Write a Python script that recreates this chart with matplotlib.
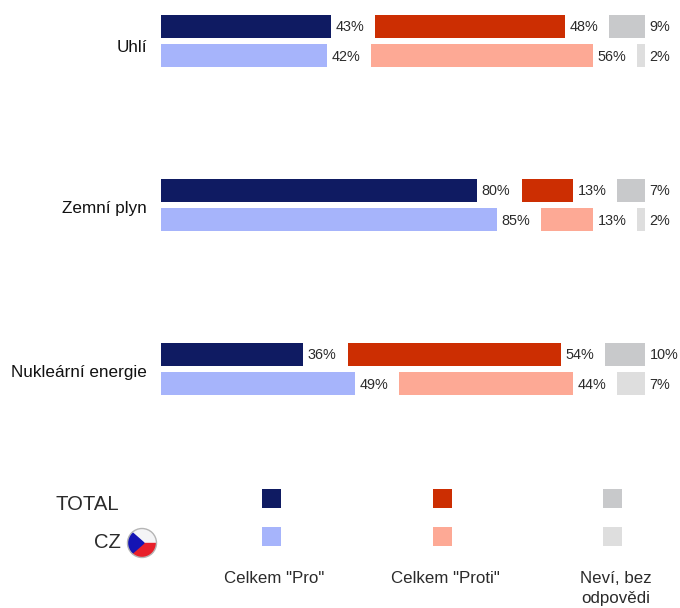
"""
Postoj k energetickým zdrojům - TOTAL vs CZ
"""

import matplotlib
matplotlib.use('Agg')
import matplotlib.pyplot as plt
from matplotlib.patches import Circle, Polygon, Rectangle

plt.rcParams['font.family'] = ['Liberation Sans', 'DejaVu Sans']

WIDTH, HEIGHT = 680, 608

CATEGORIES = ["Uhlí", "Zemní plyn", "Nukleární energie"]

TOTAL_PRO = [43, 80, 36]
TOTAL_PROTI = [48, 13, 54]
TOTAL_DK = [9, 7, 10]

CZ_PRO = [42, 85, 49]
CZ_PROTI = [56, 13, 44]
CZ_DK = [2, 2, 7]

LEGEND_LABELS = ['Celkem "Pro"', 'Celkem "Proti"', "Neví, bez\nodpovědi"]

TOTAL_COLORS = ["#0F1B62", "#CC2E02", "#C8C9CB"]
CZ_COLORS = ["#A6B4FB", "#FDA995", "#DEDEDE"]
TEXT_COLOR = "#2B2B2B"

# mezera mezi skupinami pruhů (v procentech osy)
GAP = 11.25
LABEL_NUDGE = [6, 3, 3]  # posun popisku kategorie v px


def draw_row(ax, y, values, colors):
    """Jedna řada: tři oddělené pruhy s popisky"""
    for i, cat_y in enumerate(y):
        left = 0
        for group, color in zip(values, colors):
            val = group[i]
            ax.barh(cat_y, val, height=23 / 164, left=left, color=color,
                    edgecolor='none')
            ax.annotate(f'{val}%', (left + val + 1.2, cat_y), xytext=(0, -0.72),
                        textcoords='offset points', ha='left', va='center',
                        fontsize=10.4, color=TEXT_COLOR, annotation_clip=False)
            left += val + GAP


def draw_flag(ax, cx, cy, r):
    """Kulatá česká vlajka"""
    clip = Circle((cx, cy), r, transform=ax.transData)
    parts = [
        Rectangle((cx - r, cy - r), 2 * r, r, color="#F4F4F6"),
        Rectangle((cx - r, cy), 2 * r, r, color="#E8202A"),
        Polygon([(cx - r, cy - r), (cx + 2, cy), (cx - r, cy + r)], color="#1414B4"),
    ]
    for p in parts:
        ax.add_patch(p)
        p.set_clip_path(clip)
    ax.add_patch(Circle((cx, cy), r, fill=False, edgecolor="#B5B5B5", linewidth=1))


def draw_legend(fig):
    """Legenda dole - překryvná osa v pixelech"""
    ax = fig.add_axes([0, 0, 1, 1], facecolor='none')
    ax.set_xlim(0, WIDTH)
    ax.set_ylim(HEIGHT, 0)
    ax.axis('off')

    for x, top, bottom, label in zip([271, 442, 612], TOTAL_COLORS, CZ_COLORS, LEGEND_LABELS):
        ax.add_patch(Rectangle((x - 9.5, 489), 19, 19, color=top, linewidth=0))
        ax.add_patch(Rectangle((x - 9.5, 527), 19, 19, color=bottom, linewidth=0))
        ax.text(x + 3 if '\n' not in label else x + 4, 571, label, ha='center', va='top',
                fontsize=12.2, color=TEXT_COLOR, linespacing=1.45)

    ax.text(119, 504, "TOTAL", ha='right', va='center', fontsize=14.6, color=TEXT_COLOR)
    ax.text(121, 543, "CZ", ha='right', va='center', fontsize=14.6, color=TEXT_COLOR)
    draw_flag(ax, 142, 543, 14.5)


def main():
    fig = plt.figure(figsize=(WIDTH / 100, HEIGHT / 100), dpi=100)

    # osa s pruhy: 161-645 px, 0-440 px
    ax = fig.add_axes([161 / WIDTH, 1 - 440 / HEIGHT, 484 / WIDTH, 440 / HEIGHT])
    ax.set_xlim(0, 100 + 2 * GAP)
    ax.set_ylim((440 - 41) / 164, -41 / 164)
    ax.axis('off')

    pos = range(len(CATEGORIES))
    draw_row(ax, [p - 14.6 / 164 for p in pos], [TOTAL_PRO, TOTAL_PROTI, TOTAL_DK], TOTAL_COLORS)
    draw_row(ax, [p + 14.6 / 164 for p in pos], [CZ_PRO, CZ_PROTI, CZ_DK], CZ_COLORS)

    for p, name, nudge in zip(pos, CATEGORIES, LABEL_NUDGE):
        ax.annotate(name, (0, p), xytext=(-14 * 0.72, -nudge * 0.72), textcoords='offset points',
                    ha='right', va='center', fontsize=12.3, color="#111111", annotation_clip=False)

    draw_legend(fig)
    fig.savefig('out.png', dpi=100)
    plt.close(fig)


if __name__ == "__main__":
    main()
